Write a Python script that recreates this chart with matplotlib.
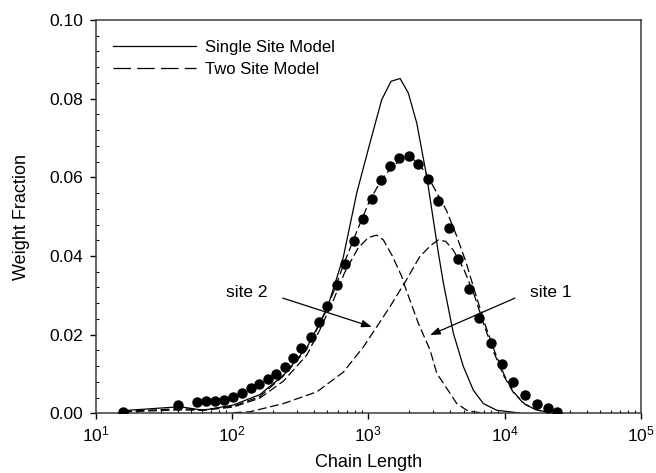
import math
import matplotlib
matplotlib.use("Agg")
import matplotlib.pyplot as plt
from matplotlib.ticker import FixedLocator, MultipleLocator, FuncFormatter, LogLocator, NullFormatter
from matplotlib.lines import Line2D

plt.rcParams['font.family'] = ['Liberation Sans', 'DejaVu Sans']
plt.rcParams['mathtext.fontset'] = 'custom'
plt.rcParams['mathtext.rm'] = 'Liberation Sans'

# ---- data ----
dots_x = [15.9, 40.2, 55.6, 64.7, 75.3, 87.7, 102.3, 118.4, 137, 157.7, 182.8, 211.4, 242.7,
          280.3, 322, 377.8, 434.6, 495, 586, 678, 785, 909, 1059, 1233, 1443, 1688, 1972,
          2316, 2743, 3247, 3875, 4572, 5454, 6490, 7945, 9570, 11590, 14040, 17190, 20930, 24120]
dots_y = [0.0003, 0.0021, 0.0030, 0.0031, 0.0031, 0.0034, 0.0041, 0.0053, 0.0064, 0.0075, 0.0087,
          0.0101, 0.0119, 0.0142, 0.0167, 0.0195, 0.0233, 0.0274, 0.0326, 0.0380, 0.0437, 0.0494,
          0.0546, 0.0592, 0.0629, 0.0649, 0.0655, 0.0634, 0.0595, 0.0540, 0.0471, 0.0393, 0.0317,
          0.0242, 0.0178, 0.0125, 0.0080, 0.0047, 0.0025, 0.0013, 0.0004]

single_x = [15.9, 41.5, 61.2, 101.6, 160.3, 237.9, 353, 495, 656, 823, 1029, 1253, 1468, 1710,
            1965, 2265, 2681, 3264, 3550, 4203, 4980, 5894, 6976, 8750, 12970]
single_y = [0.0007, 0.0017, 0.0008, 0.0021, 0.0048, 0.0097, 0.0167, 0.0263, 0.0398, 0.0561,
            0.0688, 0.0797, 0.0844, 0.0851, 0.0814, 0.0738, 0.0602, 0.0408, 0.0332, 0.0204,
            0.0119, 0.0059, 0.0025, 0.0008, 0.0001]

two_x = [15.9, 41.5, 61, 102, 160, 238, 353, 440, 550, 670, 840, 1020, 1240, 1500, 1800, 2150,
         2600, 3130, 3750, 4400, 5200, 6100, 7200, 8500, 10000, 11800, 14000, 17000, 21000, 26000]
two_y = [0.0005, 0.0012, 0.0009, 0.0018, 0.0043, 0.0095, 0.0163, 0.0228, 0.0305, 0.0385, 0.0470,
         0.0540, 0.0592, 0.0628, 0.0648, 0.0645, 0.0615, 0.0565, 0.0515, 0.0455, 0.0385, 0.0305,
         0.0225, 0.0155, 0.0095, 0.0052, 0.0024, 0.0009, 0.0003, 0.0001]

low_x = [15.9, 41.5, 61, 102, 160, 238, 353, 440, 550, 670, 840, 1000, 1150, 1288, 1500, 1758,
         1859, 2327, 2838, 3177, 3978, 4455, 5275, 5896, 7000]
low_y = [0.0004, 0.0009, 0.0008, 0.0016, 0.0039, 0.0082, 0.0148, 0.0212, 0.0285, 0.0358, 0.0420,
         0.0447, 0.0453, 0.0441, 0.0400, 0.0348, 0.0322, 0.0229, 0.0161, 0.0102, 0.0051, 0.0025,
         0.0008, 0.0004, 0.0001]

high_x = [102, 135, 238, 420, 656, 920, 1153, 1440, 1900, 2380, 2850, 3260, 3700, 4200, 5000,
          6000, 7000, 8300, 9800, 11500, 13800, 17000, 21000, 26000]
high_y = [0.0002, 0.0004, 0.0025, 0.0055, 0.0105, 0.0169, 0.0220, 0.0271, 0.0339, 0.0398, 0.0426,
          0.0441, 0.0437, 0.0415, 0.0368, 0.0300, 0.0228, 0.0157, 0.0097, 0.0055, 0.0025, 0.0009,
          0.0003, 0.0001]

legend_labels = ["Single Site Model", "Two Site Model"]
y_ticks = [0.00, 0.02, 0.04, 0.06, 0.08, 0.10]
x_ticks = [10, 100, 1000, 10000, 100000]

# ---- figure ----
fig = plt.figure(figsize=(6.56, 4.73), dpi=100)
ax = fig.add_axes([0.146, 0.126, 0.831, 0.832])

dash = (7, 3)
ax.plot(single_x, single_y, color='black', lw=0.9)
ax.plot(two_x, two_y, color='black', lw=0.9, dashes=dash)
ax.plot(low_x, low_y, color='black', lw=0.9, dashes=dash)
ax.plot(high_x, high_y, color='black', lw=0.9, dashes=dash)
ax.plot(dots_x, dots_y, 'o', color='black', ms=6.5, mec='black', zorder=5)

ax.set_xscale('log')
ax.set_xlim(10, 1e5)
ax.set_ylim(0, 0.10)

ax.xaxis.set_major_locator(FixedLocator(x_ticks))
ax.xaxis.set_major_formatter(FuncFormatter(lambda v, p: r'$\mathregular{10^{%d}}$' % round(math.log10(v))))
ax.xaxis.set_minor_locator(LogLocator(base=10, subs=range(2, 10), numticks=20))
ax.xaxis.set_minor_formatter(NullFormatter())
ax.yaxis.set_major_locator(FixedLocator(y_ticks))
ax.yaxis.set_major_formatter(FuncFormatter(lambda v, p: '%.2f' % v))
ax.yaxis.set_minor_locator(MultipleLocator(0.004))

ax.tick_params(which='major', direction='out', length=4.2, width=1, labelsize=12.5, colors='black', pad=4)
ax.tick_params(axis='y', which='major', pad=5)
ax.tick_params(which='minor', direction='in', length=2.5, width=0.8)
ax.tick_params(top=False, right=False)
for s in ax.spines.values():
    s.set_color('#3a3a3a')
    s.set_linewidth(1.1)

ax.set_xlabel('Chain Length', fontsize=13, labelpad=7)
ax.set_ylabel('Weight Fraction', fontsize=13, labelpad=14)

handles = [Line2D([], [], color='black', lw=0.9),
           Line2D([], [], color='black', lw=0.9, dashes=(14, 5))]
ax.legend(handles, legend_labels, loc='upper left', bbox_to_anchor=(0.013, 0.975), frameon=False,
          fontsize=12, handlelength=5.0, handletextpad=0.55, labelspacing=0.45, borderaxespad=0.2)

arrowprops = dict(arrowstyle='-|>,head_length=0.6,head_width=0.22', color='black', lw=0.9,
                  shrinkA=0, shrinkB=0)
ax.annotate('', xy=(1059, 0.0220), xytext=(235.5, 0.0293), arrowprops=arrowprops)
ax.text(127.6, 0.0306, 'site 2', fontsize=12.5, ha='center', va='center')
ax.annotate('', xy=(2838, 0.0199), xytext=(11910, 0.0293), arrowprops=arrowprops)
ax.text(21880, 0.0306, 'site 1', fontsize=12.5, ha='center', va='center')

fig.savefig('out.png', dpi=100)
